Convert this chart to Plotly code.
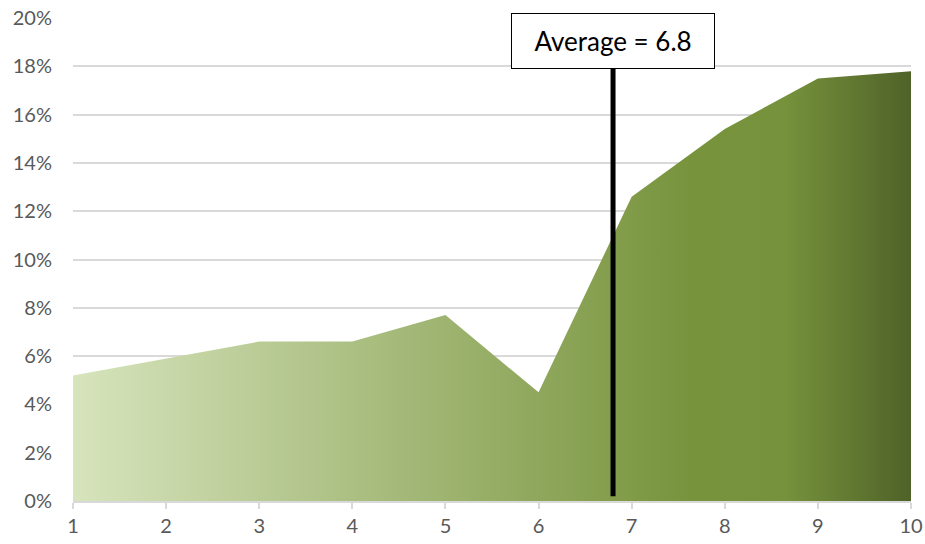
import plotly.graph_objects as go

# Share of total per decile (1..10)
deciles = [1, 2, 3, 4, 5, 6, 7, 8, 9, 10]
share = [0.052, 0.059, 0.066, 0.066, 0.077, 0.045, 0.126, 0.154, 0.175, 0.178]

average_value = 6.8
average_line_top = 0.179
average_label = "Average = 6.8"

y_ticks = [0, 0.02, 0.04, 0.06, 0.08, 0.10, 0.12, 0.14, 0.16, 0.18, 0.20]

fig = go.Figure()

fig.add_trace(go.Scatter(
    x=deciles,
    y=share,
    mode="lines",
    line=dict(width=0, color="#77933c"),
    fill="tozeroy",
    fillgradient=dict(
        type="horizontal",
        colorscale=[
            [0.0, "#d7e4bd"],
            [0.74, "#77933c"],
            [0.85, "#76923c"],
            [1.0, "#4f6228"],
        ],
    ),
    hoverinfo="skip",
    showlegend=False,
))

# Vertical marker at the average
fig.add_trace(go.Scatter(
    x=[average_value, average_value],
    y=[0.002, average_line_top],
    mode="lines",
    line=dict(color="black", width=5),
    hoverinfo="skip",
    showlegend=False,
))

fig.add_annotation(
    x=average_value,
    y=average_line_top,
    xref="x",
    yref="y",
    yanchor="bottom",
    text=average_label,
    showarrow=False,
    font=dict(family="Lato, Liberation Sans, sans-serif", size=26, color="#000000"),
    bgcolor="white",
    bordercolor="black",
    borderwidth=1,
    borderpad=8,
    width=186,
    height=38,
)

fig.update_layout(
    width=925,
    height=544,
    margin=dict(l=73, r=14, t=18, b=43),
    paper_bgcolor="white",
    plot_bgcolor="white",
    font=dict(family="Lato, Liberation Sans, sans-serif", size=20, color="#595959"),
    xaxis=dict(
        range=[1, 10],
        tickmode="array",
        tickvals=deciles,
        ticktext=[str(d) for d in deciles],
        showgrid=False,
        zeroline=False,
        showline=True,
        linecolor="#d9d9d9",
        linewidth=1.5,
        ticks="outside",
        ticklen=6,
        tickcolor="#d9d9d9",
        tickwidth=1.5,
        automargin=False,
    ),
    yaxis=dict(
        range=[0, 0.2],
        tickmode="array",
        tickvals=y_ticks,
        tickformat=".0%",
        showgrid=True,
        gridcolor="#d9d9d9",
        gridwidth=1.5,
        zeroline=False,
        showline=False,
        ticks="",
        ticklabelstandoff=20,
        automargin=False,
    ),
)

fig.write_html("out.html")
